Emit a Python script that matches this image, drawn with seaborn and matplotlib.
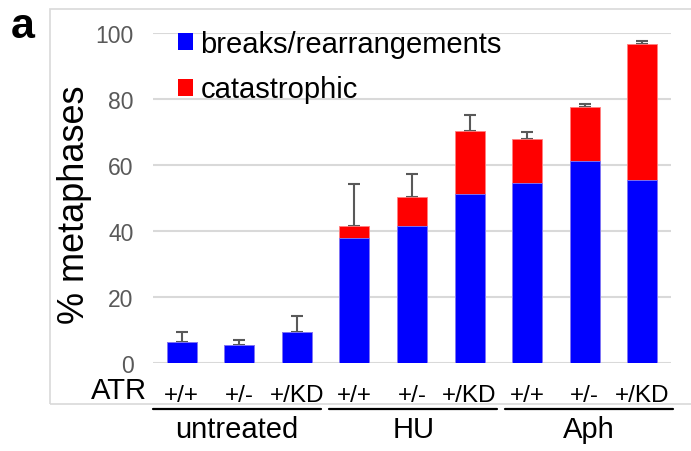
import matplotlib
matplotlib.use("Agg")
import matplotlib.pyplot as plt
import matplotlib.transforms as mtransforms
from matplotlib.patches import Patch, Rectangle
import seaborn as sns
import numpy as np
import pandas as pd

# ---- data ----
groups = ["untreated", "HU", "Aph"]
atr_labels = ["+/+", "+/-", "+/KD"]
breaks = [6.5, 5.5, 9.4, 37.8, 41.5, 51.2, 54.6, 61.3, 55.5]
catastrophic = [0.0, 0.0, 0.0, 3.8, 8.7, 19.0, 13.3, 16.3, 41.2]
err_upper = [3.1, 1.5, 4.9, 12.6, 7.0, 5.0, 2.0, 0.8, 1.0]
yticks = [0, 20, 40, 60, 80, 100]

conds = [f"{g} {a}" for g in groups for a in atr_labels]
totals = [b + c for b, c in zip(breaks, catastrophic)]
df = pd.DataFrame({"cond": conds, "breaks": breaks, "total": totals})

sns.set_theme(style="white")
plt.rcParams["font.family"] = ["Liberation Sans", "DejaVu Sans"]
plt.rcParams["text.color"] = "black"

W, H = 691, 452
fig = plt.figure(figsize=(W / 100, H / 100), dpi=100)
ax = fig.add_axes([153 / W, 1 - 364.3 / H, 518 / W, 330.3 / H])

BLUE = "#0000FF"
RED = "#FF0000"
sns.barplot(data=df, x="cond", y="total", order=conds, color=RED, width=0.52,
            saturation=1, edgecolor="#ff8080", linewidth=0.6, ax=ax, zorder=3)
sns.barplot(data=df, x="cond", y="breaks", order=conds, color=BLUE, width=0.52,
            saturation=1, edgecolor="#8080ff", linewidth=0.6, ax=ax, zorder=4)

xpos = np.arange(len(conds))
ax.errorbar(xpos, totals, yerr=[np.zeros(len(totals)), err_upper], fmt="none",
            ecolor="#595959", elinewidth=1.5, capsize=4.3, capthick=1.5, zorder=2)

ax.set_ylim(0, 100)
ax.set_xlim(-0.5, len(conds) - 0.5)
ax.set_yticks(yticks)
ax.set_yticklabels([str(v) for v in yticks], color="#595959", fontsize=16.5)
ax.yaxis.grid(True, color="#D9D9D9", linewidth=1.5, zorder=0)
ax.set_axisbelow(True)
for s in ax.spines.values():
    s.set_visible(False)
ax.tick_params(axis="y", length=0, pad=14)
ax.set_xticks(xpos)
ax.set_xticklabels(atr_labels * len(groups), fontsize=17.5, color="black")
ax.tick_params(axis="x", length=0, pad=15)
ax.set_xlabel("")
ax.set_ylabel("")

trans = mtransforms.blended_transform_factory(ax.transData, ax.transAxes)

# ATR row label
ax.text(-0.6, -0.08, "ATR", transform=trans, ha="right", va="center",
        fontsize=21, color="black", clip_on=False)

# group lines & labels
for gi, g in enumerate(groups):
    x0 = -0.5 + gi * 3.06
    x1 = x0 + 2.92
    ax.plot([x0, x1], [-0.139, -0.139], color="black", lw=1.6, transform=trans, clip_on=False)
    ax.text((x0 + x1) / 2, -0.2, g, ha="center", va="center", fontsize=21,
            color="black", transform=trans, clip_on=False)

# legend
handles = [Patch(facecolor=BLUE, edgecolor="none"), Patch(facecolor=RED, edgecolor="none")]
leg = ax.legend(handles, ["breaks/rearrangements", "catastrophic"], loc="upper left",
                bbox_to_anchor=(178 / W, 1 - 31 / H), bbox_transform=fig.transFigure,
                frameon=False, fontsize=21, handlelength=0.52, handleheight=0.52,
                handletextpad=0.25, labelspacing=0.6, borderpad=0, borderaxespad=0,
                labelcolor="black")

# y label and panel letter
fig.text(75 / W, 1 - 205 / H, "% metaphases", rotation=90, ha="center", va="center",
         fontsize=26, color="black")
fig.text(11 / W, 1 - 38 / H, "a", ha="left", va="baseline", fontsize=31,
         fontweight="bold", color="black")

# outer box
fig.patches.append(Rectangle((50 / W, 1 - 405 / H), 700 / W, 395 / H,
                             transform=fig.transFigure, fill=False,
                             edgecolor="#D9D9D9", linewidth=1.2, zorder=0))

fig.savefig("out.png", dpi=100)
